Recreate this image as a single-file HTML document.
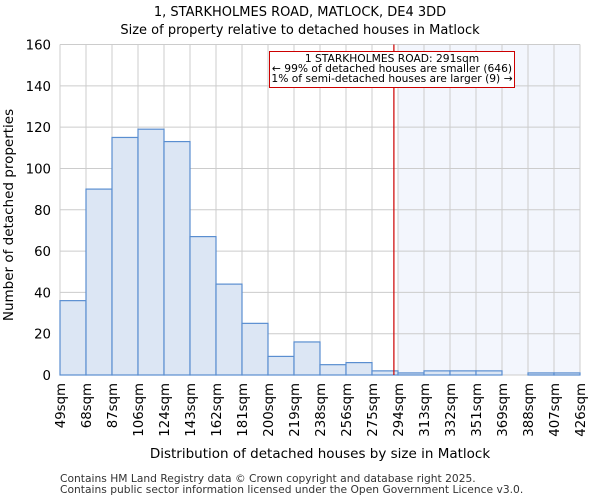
<!DOCTYPE html>
<html><head><meta charset="utf-8"><style>
body{margin:0;background:#fff;font-family:"DejaVu Sans","Liberation Sans",sans-serif}
</style></head><body>
<svg id="c" width="600" height="500" xmlns="http://www.w3.org/2000/svg" font-family="DejaVu Sans, Liberation Sans, sans-serif">
<text x="300" y="16" text-anchor="middle" font-size="13">1, STARKHOLMES ROAD, MATLOCK, DE4 3DD</text>
<text x="300" y="34" text-anchor="middle" font-size="13">Size of property relative to detached houses in Matlock</text>
<g id="plot"></g>
<text x="320" y="458" text-anchor="middle" font-size="13.5">Distribution of detached houses by size in Matlock</text>
<text transform="translate(13,215) rotate(-90)" text-anchor="middle" font-size="13.5">Number of detached properties</text>
<text x="60" y="482" font-size="10.7" fill="#333">Contains HM Land Registry data © Crown copyright and database right 2025.</text>
<text x="60" y="493" font-size="10.7" fill="#333">Contains public sector information licensed under the Open Government Licence v3.0.</text>
</svg>
<script>
const binLabels=["49sqm","68sqm","87sqm","106sqm","124sqm","143sqm","162sqm","181sqm","200sqm","219sqm","238sqm","256sqm","275sqm","294sqm","313sqm","332sqm","351sqm","369sqm","388sqm","407sqm","426sqm"];
const counts=[36,90,115,119,113,67,44,25,9,16,5,6,2,1,2,2,2,0,1,1];
const yTicks=[0,20,40,60,80,100,120,140,160];
const propertyBin=13+(291-294)/19;
const highlightFromBin=13;
const X0=60,X1=580,Y0=375,Y1=44.5,YMAX=160;
const bw=(X1-X0)/counts.length;
const xs=i=>X0+i*bw;
const ys=v=>Y0-(v/YMAX)*(Y0-Y1);
const NS="http://www.w3.org/2000/svg";
const g=document.getElementById('plot');
function mk(t,a){const e=document.createElementNS(NS,t);for(const k in a)e.setAttribute(k,a[k]);g.appendChild(e);return e;}
let e;
e=mk('rect',{x:xs(highlightFromBin),y:Y1,width:X1-xs(highlightFromBin),height:Y0-Y1,fill:'#f3f6fd'});


yTicks.forEach(v=>{
 e=mk('line',{x1:X0,x2:X1,y1:ys(v),y2:ys(v),stroke:'#cccccc','stroke-width':1});
 
 
 e=mk('text',{x:X0-9,y:ys(v)+5,'text-anchor':'end','font-size':13.3});
 e.textContent=v;
 
 
});
binLabels.forEach((l,i)=>{
 e=mk('line',{x1:xs(i),x2:xs(i),y1:Y1,y2:Y0,stroke:'#cccccc','stroke-width':1});
 
 
 const x=xs(i)+5;
 e=mk('text',{x:x,y:Y0+8,'text-anchor':'end','font-size':13.3,transform:`rotate(-90 ${x} ${Y0+8})`});
 e.textContent=l;
 
 
});
counts.forEach((v,i)=>{
 if(v<=0)return;
 e=mk('rect',{x:xs(i),y:ys(v),width:bw,height:Y0-ys(v),fill:'#dce6f4',stroke:'#5a8ed0','stroke-width':1.2});
 
 
});
e=mk('line',{x1:xs(propertyBin),x2:xs(propertyBin),y1:Y1,y2:Y0,stroke:'#cc0000','stroke-width':1.2});


e=mk('rect',{x:269.5,y:51.5,width:245,height:36,fill:'#fff',stroke:'#cc0000','stroke-width':1});


[["1 STARKHOLMES ROAD: 291sqm",62],["← 99% of detached houses are smaller (646)",72],["1% of semi-detached houses are larger (9) →",82]].forEach((t,k)=>{
 e=mk('text',{x:392,y:t[1],'text-anchor':'middle','font-size':10.7});
 e.textContent=t[0];
 
 
});
</script>
</body></html>
